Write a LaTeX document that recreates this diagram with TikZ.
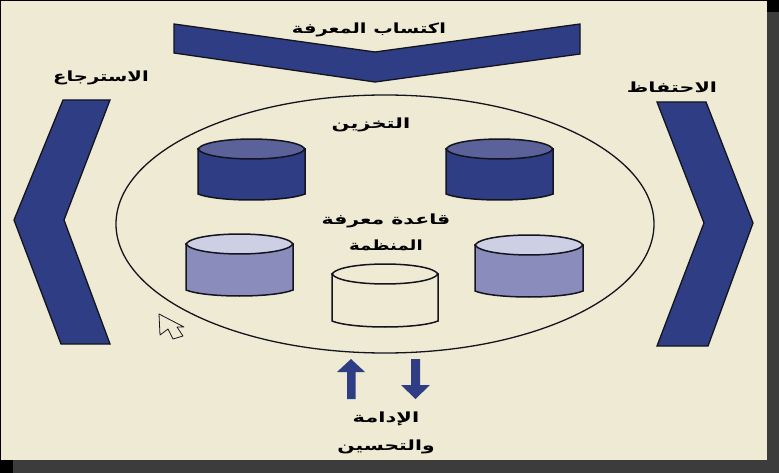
\documentclass[tikz,border=0pt]{standalone}
\usepackage{fontspec}
\usepackage{graphicx}
\TeXXeTstate=1
\newfontfamily\arabicfont[Script=Arabic,BoldFont={DejaVu Sans Bold}]{DejaVu Sans}
\definecolor{panel}{HTML}{EFEAD4}
\definecolor{frameg}{HTML}{3C3C3C}
\definecolor{navy}{HTML}{2F3D84}
\definecolor{navytop}{HTML}{5A6299}
\definecolor{midbody}{HTML}{8A8DBB}
\definecolor{midtop}{HTML}{CDCFE4}
\definecolor{inkline}{HTML}{14141E}
\tikzset{
  x=1pt,y=-1pt,
  chevron/.style={fill=navy,draw=inkline,line width=1.3pt,line join=miter},
  blockarrow/.style={fill=navy,draw=none},
  arlabel/.style={inner sep=0pt,text=black,font=\arabicfont\bfseries\fontsize{14}{14}\selectfont},
  pics/drum/.style n args={6}{code={
    % #1 left, #2 right, #3 top-centre y, #4 side-bottom y, #5 body, #6 top
    \path[fill=#5,draw=inkline,line width=1.5pt]
      (#1,#3) -- (#1,#4) .. controls (#1+20,#4+8) and (#2-20,#4+8) .. (#2,#4) -- (#2,#3) -- cycle;
    \path[fill=#6,draw=inkline,line width=1.5pt]
      (#1,#3) .. controls (#1+8,#3-13.3) and (#2-8,#3-13.3) .. (#2,#3)
      .. controls (#2-8,#3+13.3) and (#1+8,#3+13.3) .. (#1,#3) -- cycle;
  }}
}
\begin{document}
\begin{tikzpicture}
\useasboundingbox (0,0) rectangle (779,473);
\fill[frameg] (0,0) rectangle (779,473);
\fill[black] (767,0) rectangle (779,12);
\fill[black] (0,460) rectangle (13,473);
\fill[black] (0,0) rectangle (767,1);
\fill[black] (0,0) rectangle (1,460);
\fill[panel] (1,1) rectangle (767,460);

% chevrons
\draw[chevron] (174,24) -- (375,52) -- (580,24) -- (580,54) -- (375,82) -- (174,53) -- cycle;
\draw[chevron] (63,100) -- (110,100) -- (64,220) -- (110,344) -- (61,344) -- (14,220) -- cycle;
\draw[chevron] (657,102) -- (706,102) -- (753,223) -- (708,346) -- (657,346) -- (704,223) -- cycle;

% enclosing ellipse
\draw[inkline,line width=1.3pt] (385,224) ellipse [x radius=269,y radius=129];

% drums
\pic {drum={198}{305}{149}{194}{navy}{navytop}};
\pic {drum={446}{553}{149}{194}{navy}{navytop}};
\pic {drum={186}{293}{244}{290}{midbody}{midtop}};
\pic {drum={475}{583}{245}{291}{midbody}{midtop}};
\pic {drum={332}{438}{274}{321}{panel}{panel}};

% block arrows
\fill[blockarrow] (351,359) -- (365,372) -- (355.5,372) -- (355.5,399) -- (347,399) -- (347,372) -- (337,372) -- cycle;
\fill[blockarrow] (411,359) -- (420,359) -- (420,385) -- (430,385) -- (415.5,399) -- (401,385) -- (411,385) -- cycle;

% cursor
\draw[fill=panel,draw=inkline,line width=.8pt,line join=round]
  (159,314) -- (160,335) -- (168,329) -- (173,339) -- (183,336) -- (177,327) -- (184,327) -- cycle;

% labels
\node[arlabel] (acquire) at (369,30) {\scalebox{1.39}[1]{\beginR اكتساب المعرفة\endR}};
\node[arlabel] (retrieve) at (101,78) {\scalebox{1.4}[1]{\beginR الاسترجاع\endR}};
\node[arlabel] (retain) at (672,87) {\scalebox{1.48}[1]{\beginR الاحتفاظ\endR}};
\node[arlabel] (store) at (371,125) {\scalebox{1.5}[1]{\beginR التخزين\endR}};
\node[arlabel] (kb1) at (386,221) {\scalebox{1.46}[1]{\beginR قاعدة معرفة\endR}};
\node[arlabel] (kb2) at (386,245) {\scalebox{1.3}[1]{\beginR المنظمة\endR}};
\node[arlabel] (maint) at (386,419) {\scalebox{1.5}[1]{\beginR الإدامة\endR}};
\node[arlabel] (improve) at (386,447) {\scalebox{1.45}[1]{\beginR والتحسين\endR}};
\end{tikzpicture}
\end{document}
